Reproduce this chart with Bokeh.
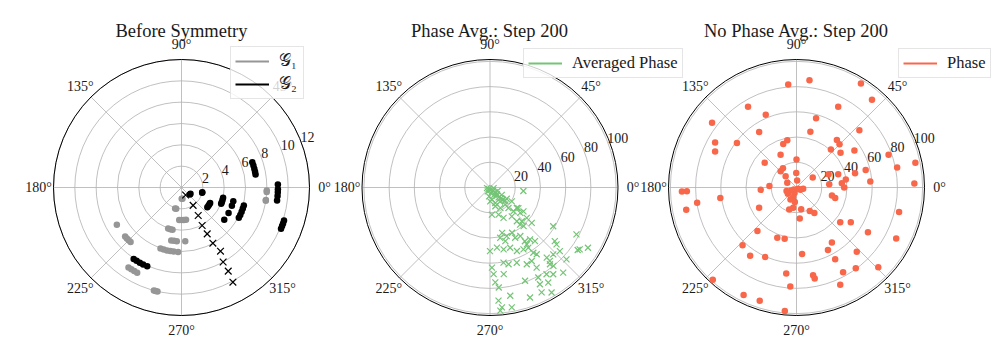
import numpy as np
from bokeh.plotting import figure
from bokeh.models import Range1d, Legend, LegendItem
from bokeh.core.properties import value
from bokeh.embed import file_html
from bokeh.resources import INLINE

# ---------------- data ----------------
titles = ["Before Symmetry", "Phase Avg.: Step 200", "No Phase Avg.: Step 200"]
angle_ticks = [0, 45, 90, 135, 180, 225, 270, 315]
angle_labels = ["0\u00b0", "45\u00b0", "90\u00b0", "135\u00b0", "180\u00b0", "225\u00b0", "270\u00b0", "315\u00b0"]
r_ticks_1 = [2, 4, 6, 8, 10, 12]
r_ticks_2 = [20, 40, 60, 80, 100]
r_ticks_3 = [20, 40, 60, 80, 100]
rmax_list = [12, 101.5, 101.5]

# Panel 1: G1 (grey dots)
g1_theta = [271, 275, 253, 256, 266, 270, 274, 278, 252, 255, 258, 259, 262, 265, 274,
            251, 254, 257, 260, 263, 267, 210, 221, 223, 225, 227, 358, 357, 351.5, 351,
            236.5, 238.5, 240.5, 242.5, 255, 256, 257]
g1_r = [1.05, 1.05, 2.05, 2.05, 3.05, 3.05, 3.05, 3.05, 4.05, 4.05, 4.05, 5.05, 5.05, 5.05, 5.05,
        6.05, 6.05, 6.05, 6.05, 6.05, 6.05, 7.0, 7.0, 7.0, 7.0, 7.0, 8.0, 8.0, 8.0, 8.0,
        9.0, 9.0, 9.0, 9.0, 10.0, 10.0, 10.0]
# Panel 1: G2 (black dots)
g2_theta = [320, 325, 345.5, 347, 322.5, 326, 329, 331.6, 337.6, 340, 343, 346,
            345.2, 340.2, 331.5, 323, 344, 341, 338, 335, 332.1,
            19.7, 17, 14.5, 12, 10, 1.8, 359, 357.2, 355, 352.3,
            342.1, 340.5, 339, 337.5, 236.2, 238.5, 241, 243.5, 246.5]
g2_r = [1.03, 1.03, 2.0, 2.0, 3.05, 3.05, 3.05, 3.05, 4.02, 4.02, 4.02, 4.02,
        5.02, 5.02, 5.02, 5.02, 6.08, 6.08, 6.08, 6.08, 6.08,
        7.05, 7.05, 7.05, 7.05, 7.05, 9.04, 9.04, 9.04, 9.04, 9.04,
        10.1, 10.1, 10.1, 10.1, 8.06, 8.06, 8.06, 8.06, 8.06]
# Panel 1: black crosses
gx_theta = [298.6, 303, 300.8, 298.5, 299, 299.4, 301.5, 299.2, 299.2, 298.5]
gx_r = [0.8, 2.0, 3.06, 4.06, 4.97, 5.99, 7.0, 8.0, 8.98, 10.1]

# Panel 2: averaged phase (green crosses)
avg_theta = [225, 278, 312, 319, 280, 301, 311, 311, 316, 316.5, 319, 306, 316, 264, 279, 289, 271,
             286, 297, 311.5, 312, 314.6, 322.6, 320, 324.5, 274, 287.6, 294, 307, 308.5, 313.3,
             320.4, 319.7, 309, 311, 328.5, 285, 289, 296, 296.6, 302, 303, 307.6, 281.5, 286,
             310, 303, 320.4, 319.5, 331.5, 270, 276.6, 282.4, 288.5, 293, 298.4, 302.5, 303.6,
             305, 299.6, 309, 309.2, 313.4, 317.7, 325.4, 328.4, 316.8, 280.2, 283.6, 289.6,
             295.6, 300.2, 308, 309, 271.4, 272.4, 273.2, 275, 279, 290.6, 298.2, 297.3, 301.5,
             306.1, 310.7, 303.1, 274.3, 275.7, 280.6, 280.3, 290, 296.2, 300.4, 274.8, 354,
             192, 240, 350, 336, 328, 326, 327.5, 324, 324.5]
avg_r = [1.5, 1.9, 3.5, 5.6, 4.5, 6.7, 8.4, 10.4, 12.1, 14.1, 16, 13.7, 7.6, 7.1, 9.8, 13, 11,
         15.5, 18.2, 18.2, 21.9, 26.5, 26.8, 31.3, 32.6, 21.6, 22.6, 26.4, 28.7, 34.2, 36.8,
         37.8, 43.4, 37.9, 40.6, 58.8, 37.2, 40.8, 39.9, 44.6, 45.4, 50.8, 52, 40.7, 44.2,
         55.5, 53.7, 66.7, 69.4, 78, 50.4, 48, 50.2, 50.4, 54.7, 55.8, 56.6, 62.1,
         64.6, 67, 71.5, 75.1, 73, 74.9, 86.4, 91.2, 83.2, 60.5, 62.6, 63.3,
         67.5, 73.5, 77.2, 79.9, 63.5, 68.8, 75.4, 79.6, 69.6, 79, 81, 86.3, 88.4,
         85.1, 89, 82.1, 90, 95.5, 87.3, 96.6, 92.8, 92.7, 96.5, 98, 26.6,
         2.4, 3.6, 2.9, 6.6, 11, 16, 20.5, 27.8, 85.4]

# Panel 3: phase without averaging (red dots)
phase_theta = [94.6, 83.1, 58.2, 49.3, 62.7, 121, 112.9, 74.2, 142.5, 123.9, 76, 42.3, 151, 156.1,
               143.3, 101, 107, 49.7, 45.2, 47.9, 38.3, 32.6, 19.6, 11.8, 11.3, 1.9, 14.2, 4.6,
               13.7, 17.6, 9.2, 5.4, 0, 5.8, 31.5, 22.4, 90, 91, 115.9, 142, 125.3, 134.4, 134,
               153.4, 84.6, 177, 183.7, 187.9, 188.7, 191.4, 182, 181.9, 208.4, 228, 226.9,
               235.8, 245.7, 249.1, 257, 227.8, 243.8, 252, 264.6, 263.2, 266.4, 274.8, 276,
               280.7, 281.3, 294.2, 296.7, 302.8, 298.3, 298.8, 306.3, 313.2, 315.7, 332.9, 328,
               327.4, 321.5, 346.6, 347.4, 344.7, 299.4, 305, 282, 260.7, 251.6, 263.5, 251, 216,
               200, 209, 217, 321, 349, 330, 243.4, 251]
phase_r = [81.9, 85.6, 97, 91.8, 72.1, 74.6, 62.7, 57, 84.4, 53.1, 45.5, 67.4, 73.8, 70.6,
           58.9, 38.2, 36, 49.5, 48.4, 40.7, 44.5, 54.5, 77.5, 96.3, 81.4, 93.5, 56.6, 58.7,
           47.8, 34.7, 39.6, 36.1, 37.8, 26.1, 15.1, 27.5, 22.3, 11.5, 28.9, 32, 18.6, 18, 12.4,
           8.2, 5.5, 21.5, 28.4, 61, 79.7, 89.2, 90.9, 87, 33.7, 46.3, 62.6,
           65.4, 60.5, 42.7, 41.8, 98.8, 95, 94.4, 98.3, 68.7, 78.6, 52.9, 24.8,
           70.8, 73.6, 84.6, 55.5, 51.8, 64.7, 76.7, 79.4, 69.8, 90.6, 88.8, 66.8,
           51.1, 44.3, 83.6, 28.8, 31.8, 21.4, 24.7, 17.7, 16.2, 18.3, 11.6, 8, 8.5,
           8.4, 4.8, 2.6, 1.7, 5.4, 3.6, 10.6, 4.7]

legend_labels = [["\U0001D4A2\u2081", "\U0001D4A2\u2082"], ["Averaged Phase"], ["Phase"]]

# ---------------- styling / layout ----------------
W, H = 997, 358
FONT = "Liberation Serif"
GRID = "#b0b0b0"
GREY = "#969696"
GREEN = "#74c476"
RED = "#f9674a"
TXT = "#1a1a1a"
centers = [(181, 187), (489.5, 187), (796, 187)]   # page pixels
RPX = 128.0

p = figure(width=W, height=H, x_range=Range1d(0, W), y_range=Range1d(0, H),
           output_backend="svg", toolbar_location=None, x_axis_type=None,
           y_axis_type=None, min_border=0, outline_line_color=None)
p.background_fill_color = "white"


def pol(theta_deg, r):
    t = np.deg2rad(np.asarray(theta_deg, dtype=float))
    r = np.asarray(r, dtype=float)
    return r * np.cos(t), r * np.sin(t)


def setup_panel(k, rticks):
    name = "p%d" % k
    rmax = rmax_list[k]
    s = RPX / rmax
    cx, cy = centers[k]
    p.extra_x_ranges[name] = Range1d(-cx / s, (W - cx) / s)
    p.extra_y_ranges[name] = Range1d(-(H - cy) / s, cy / s)
    kw = dict(x_range_name=name, y_range_name=name)
    # rings
    p.circle(x=[0] * len(rticks), y=[0] * len(rticks), radius=rticks, fill_color=None,
             line_color=GRID, line_width=0.8, **kw)
    # spokes
    ex, ey = pol(angle_ticks, [rmax] * len(angle_ticks))
    p.segment(x0=[0] * len(ex), y0=[0] * len(ex), x1=ex, y1=ey, line_color=GRID,
              line_width=0.8, **kw)
    # spine
    p.circle(x=[0], y=[0], radius=[rmax], fill_color=None, line_color="black",
             line_width=1.0, **kw)
    # angle labels
    lx, ly = pol(angle_ticks, [143.0 / s] * len(angle_ticks))
    p.text(x=lx, y=ly, text=angle_labels, text_align="center", text_baseline="middle",
           text_font=value(FONT), text_font_size="14px", text_color=TXT, **kw)
    # radial labels
    rx, ry = pol([22.5] * len(rticks), rticks)
    p.text(x=rx + 0.8 / s, y=ry + 1.5 / s, text=[str(v) for v in rticks], text_align="left",
           text_baseline="alphabetic", text_font=value(FONT), text_font_size="14px",
           text_color=TXT, **kw)
    # title
    p.text(x=[0], y=[(cy - 30.5) / s], text=[titles[k]], text_align="center",
           text_baseline="alphabetic", text_font=value(FONT), text_font_size="18.5px",
           text_color=TXT, **kw)
    return kw


kw1 = setup_panel(0, r_ticks_1)
kw2 = setup_panel(1, r_ticks_2)
kw3 = setup_panel(2, r_ticks_3)

# panel 1 data
x, y = pol(g1_theta, g1_r)
p.scatter(x, y, size=6.5, marker="circle", color=GREY, line_width=0, **kw1)
x, y = pol(g2_theta, g2_r)
p.scatter(x, y, size=6.5, marker="circle", color="black", line_width=0, **kw1)
x, y = pol(gx_theta, gx_r)
p.scatter(x, y, size=9.5, marker="x", line_color="black", line_width=1.2, **kw1)

# panel 2 data
x, y = pol(avg_theta, avg_r)
p.scatter(x, y, size=8.5, marker="x", line_color=GREEN, line_width=1.2, **kw2)

# panel 3 data
x, y = pol(phase_theta, phase_r)
p.scatter(x, y, size=6.5, marker="circle", color=RED, line_width=0, **kw3)

# legends (proxy line renderers placed outside the visible area)
far_x, far_y = [-5000, -4990], [-5000, -5000]
l1a = p.line(x=far_x, y=far_y, line_color=GREY, line_width=2)
l1b = p.line(x=far_x, y=far_y, line_color="black", line_width=2)
l2 = p.line(x=far_x, y=far_y, line_color=GREEN, line_width=2)
l3 = p.line(x=far_x, y=far_y, line_color=RED, line_width=2)


def make_legend(items, loc, spacing=2):
    lg = Legend(items=items, location=loc, label_text_font=FONT, label_text_font_size="16.5px",
                label_text_color=TXT, glyph_width=34, glyph_height=18, label_height=18,
                label_standoff=10, padding=4, spacing=spacing, margin=0,
                border_line_color="#cccccc", border_line_width=1,
                background_fill_color="white", background_fill_alpha=0.8)
    p.add_layout(lg)
    return lg


make_legend([LegendItem(label=legend_labels[0][0], renderers=[l1a]),
             LegendItem(label=legend_labels[0][1], renderers=[l1b])], (230, 259), spacing=3)
make_legend([LegendItem(label=legend_labels[1][0], renderers=[l2])], (523, 280))
make_legend([LegendItem(label=legend_labels[2][0], renderers=[l3])], (898, 280))

open("out.html", "w").write(file_html(p, INLINE))
